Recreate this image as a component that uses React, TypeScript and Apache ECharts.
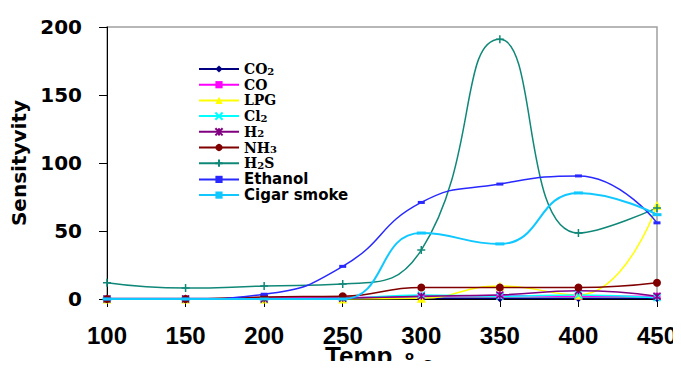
import React, { useEffect, useRef } from "react";
import * as echarts from "echarts";

const temps = [100, 150, 200, 250, 300, 350, 400, 450];
const co2 = [0.3, 0.3, 0.5, 0.5, 0.5, 0.5, 0.5, 0.5];
const co = [0, 0, 0.5, 1, 2, 2.5, 2, 2];
const lpg = [0, 0, 0, 0, 0.5, 9.5, 3, 69];
const cl2 = [0, 0, 0, 0.5, 3, 2, 3, 1];
const h2 = [0, 0, 0, 0.5, 2, 3, 6, 2];
const nh3 = [0, 0, 1.5, 2, 8.5, 8.5, 8.5, 12];
const h2s = [12, 8, 9.5, 11, 36, 191, 48.5, 67];
const ethanol = [0, 0, 3.5, 24, 71, 84.5, 90.5, 56];
const cigar = [0, 0, 0, 0, 48.5, 40.5, 78, 62];

const seriesNames = ["CO2", "CO", "LPG", "Cl2", "H2", "NH3", "H2S", "Ethanol", "Cigar smoke"];
const legendLabels = [
  "{n|CO}{s|2}",
  "{n|CO}",
  "{n|LPG}",
  "{n|Cl}{s|2}",
  "{n|H}{s|2}",
  "{n|NH}{s|3}",
  "{n|H}{s|2}{n|S}",
  "{a|Ethanol}",
  "{a|Cigar smoke}",
];

const X_PATH = "path://M0,0L10,10M10,0L0,10";
const STAR_PATH = "path://M0,0L10,10M10,0L0,10M5,0L5,10";
const PLUS_PATH = "path://M5,0L5,10M0,5L10,5";

export default function App() {
  const ref = useRef<HTMLDivElement>(null);
  useEffect(() => {
    if (!ref.current) return;
    const chart = echarts.init(ref.current, undefined, { renderer: "svg" });
    const values = [co2, co, lpg, cl2, h2, nh3, h2s, ethanol, cigar];
    const styles = [
      { color: "#000080", symbol: "diamond", size: 8, width: 1.5 },
      { color: "#FF00FF", symbol: "rect", size: 7, width: 1.5 },
      { color: "#FFFF00", symbol: "triangle", size: 9, width: 1.5 },
      { color: "#00FFFF", symbol: X_PATH, size: 7, width: 1.5 },
      { color: "#800080", symbol: STAR_PATH, size: 7, width: 1.5 },
      { color: "#800000", symbol: "circle", size: 8, width: 1.5 },
      { color: "#108878", symbol: PLUS_PATH, size: 8, width: 1.5 },
      { color: "#2828FF", symbol: "rect", size: [7, 3], width: 1.5 },
      { color: "#10C8FF", symbol: "rect", size: [9, 3], width: 2 },
    ];
    const series = seriesNames.map((name, i) => {
      const st = styles[i];
      const isPath = typeof st.symbol === "string" && st.symbol.startsWith("path://");
      return {
        type: "line",
        name,
        data: temps.map((t, j) => [t, values[i][j]]),
        smooth: 0.5,
        symbol: st.symbol,
        symbolSize: st.size,
        showAllSymbol: true,
        lineStyle: { color: st.color, width: st.width },
        itemStyle: isPath
          ? { color: st.color, borderColor: st.color, borderWidth: 1.5 }
          : { color: st.color, borderWidth: 0 },
        emphasis: { disabled: true },
      };
    });
    const legends = seriesNames.map((name, i) => ({
      data: [name],
      left: 198,
      top: 69 + 15.7 * i - 7,
      orient: "vertical",
      itemWidth: 40,
      itemHeight: 9,
      itemGap: 0,
      padding: 0,
      selectedMode: false,
      formatter: () => legendLabels[i],
      textStyle: {
        color: "#000",
        lineHeight: 14,
        rich: {
          n: { fontFamily: "DejaVu Serif", fontWeight: "bold", fontSize: 14, lineHeight: 14, color: "#000" },
          s: { fontFamily: "DejaVu Serif", fontWeight: "bold", fontSize: 10, lineHeight: 7, verticalAlign: "bottom", color: "#000" },
          a: { fontFamily: "DejaVu Sans", fontWeight: "bold", fontSize: 15, lineHeight: 14, color: "#000" },
        },
      },
    }));
    chart.setOption({
      animation: false,
      backgroundColor: "#fff",
      grid: {
        left: 107,
        right: 24,
        top: 27,
        bottom: 70,
        show: true,
        borderColor: "#a0a0a0",
        borderWidth: 1.5,
      },
      legend: legends,
      xAxis: {
        type: "value",
        min: 100,
        max: 450,
        interval: 50,
        axisLine: { show: true, lineStyle: { color: "#000", width: 1 } },
        axisTick: { show: true, length: 8, lineStyle: { color: "#000" } },
        splitLine: { show: false },
        axisLabel: {
          margin: 24,
          fontFamily: "Liberation Sans",
          fontWeight: "bold",
          fontSize: 24,
          color: "#000",
        },
      },
      yAxis: {
        type: "value",
        min: 0,
        max: 200,
        interval: 50,
        name: "Sensityvity",
        nameLocation: "middle",
        nameGap: 72,
        nameTextStyle: {
          fontFamily: "DejaVu Sans",
          fontWeight: "bold",
          fontSize: 20,
          color: "#000",
        },
        axisLine: { show: true, lineStyle: { color: "#000", width: 1 } },
        axisTick: { show: true, length: 8, lineStyle: { color: "#000" } },
        splitLine: { show: false },
        axisLabel: {
          margin: 25,
          fontFamily: "DejaVu Sans",
          fontWeight: "bold",
          fontSize: 20,
          color: "#000",
        },
      },
      graphic: [
        {
          type: "text",
          left: 325,
          top: 343,
          style: { text: "Temp", fontFamily: "Liberation Sans", fontWeight: "bold", fontSize: 26, fill: "#000" },
        },
        {
          type: "text",
          left: 405,
          top: 349,
          style: { text: "o", fontFamily: "DejaVu Sans", fontWeight: "bold", fontSize: 13, fill: "#000" },
        },
        {
          type: "text",
          left: 422,
          top: 355,
          style: { text: "c", fontFamily: "DejaVu Sans", fontWeight: "bold", fontSize: 17, fill: "#000" },
        },
      ],
      series,
    });
    return () => chart.dispose();
  }, []);
  return <div ref={ref} style={{ width: 681, height: 369, margin: -8 }} />;
}
